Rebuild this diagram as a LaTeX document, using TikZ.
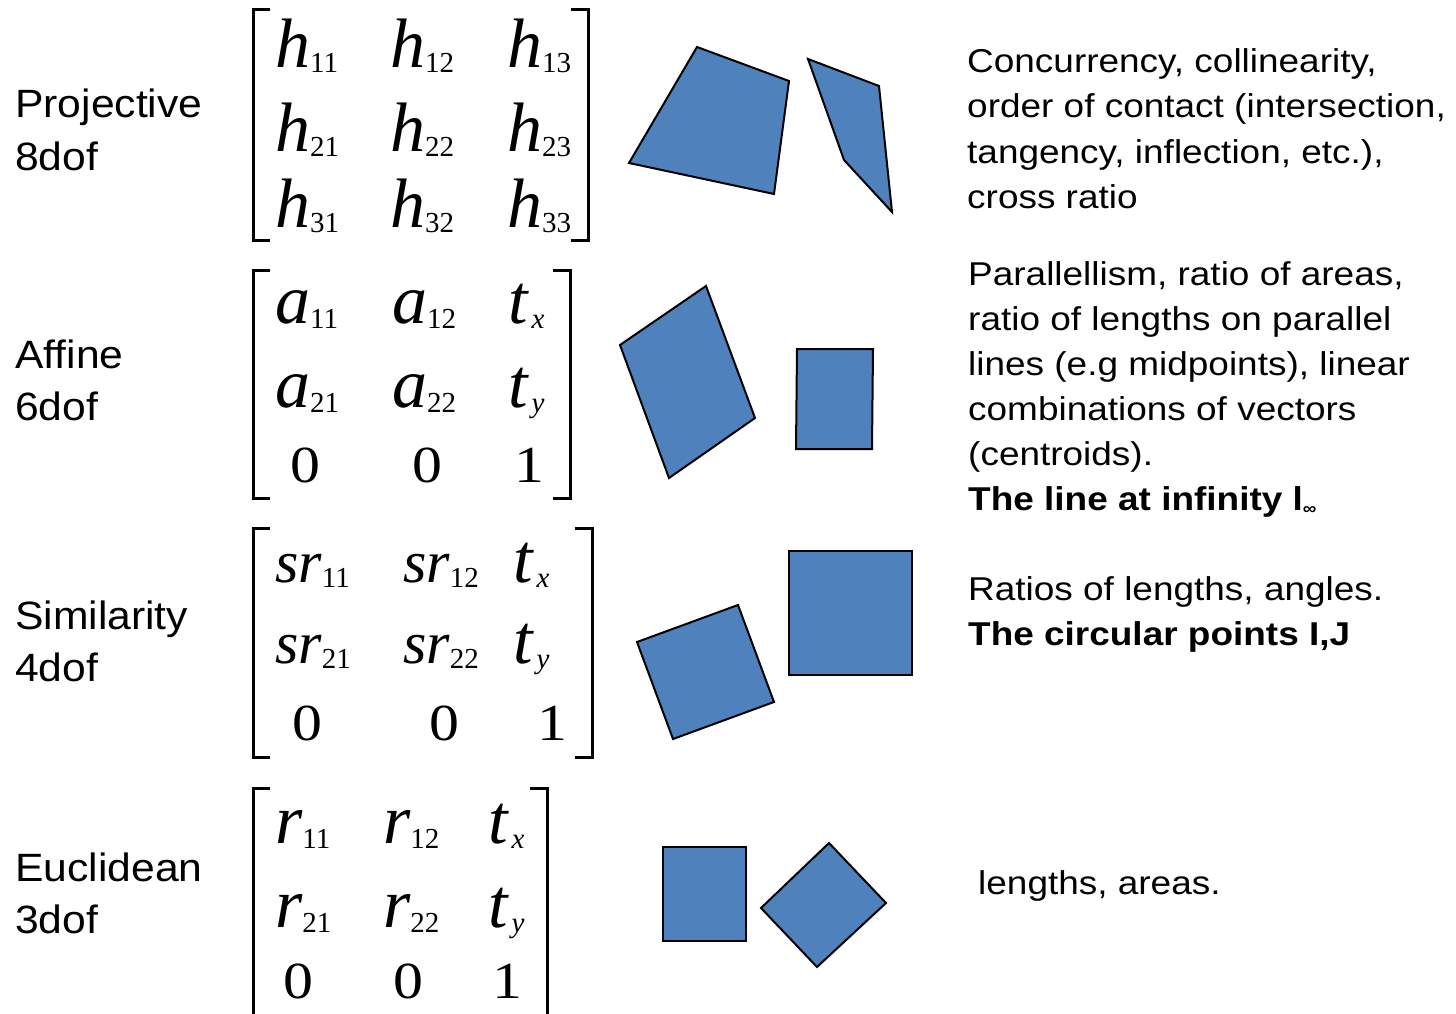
\documentclass[tikz,border=0pt]{standalone}
\usepackage{fontspec}
\usepackage{graphicx}
\setmainfont{Liberation Sans}
\newfontfamily\eqfont{Liberation Serif}
\usetikzlibrary{positioning}
\definecolor{shapeblue}{RGB}{79,129,189}

% matrix pieces: variable, plain digit, digit subscript, italic subscript
\newcommand{\mv}[2]{{\eqfont\fontsize{#1}{#1}\selectfont\itshape #2}}
\newcommand{\mn}[1]{\scalebox{1.15}[1]{\eqfont\fontsize{52}{52}\selectfont #1}}
\newcommand{\ms}[1]{\raisebox{-5pt}{\eqfont\fontsize{29}{29}\selectfont #1}}
\newcommand{\msi}[1]{\kern4pt\raisebox{-5pt}{\eqfont\fontsize{29}{29}\selectfont\itshape #1}}
% wide text as on the slide
\newcommand{\wide}[2]{\scalebox{#1}[1]{#2}}

\begin{document}
\begin{tikzpicture}[x=1pt, y=-1pt, every node/.style={inner sep=0pt},
  kind/.style={anchor=base west, font=\fontsize{39.5}{39.5}\selectfont},
  prop/.style={anchor=base west, font=\fontsize{33}{33}\selectfont},
  entry/.style={anchor=base west},
  digit/.style={anchor=base},
  bracket/.style={line width=3pt},
  blob/.style={fill=shapeblue, draw=black, line width=2pt, line join=miter}]
\useasboundingbox (0,0) rectangle (1456,1014);

% names of the groups
\foreach \n/\txt/\dof/\y in {p/Projective/8dof/118, a/Affine/6dof/368,
                             s/Similarity/4dof/629, e/Euclidean/3dof/881}{
  \node[kind] (\n-name) at (15,\y) {\wide{1.08}{\txt}};
  \node[kind] (\n-dof) at (15,\y+52) {\wide{1.08}{\dof}};
}

% matrix brackets
\foreach \l/\r/\t/\b in {253/588/10/240, 253/570/270/498,
                         253/592/528/757, 253/547/788/1030}{
  \draw[bracket] (\l+17,\t) -- (\l,\t) -- (\l,\b) -- (\l+17,\b);
  \draw[bracket] (\r-17,\t) -- (\r,\t) -- (\r,\b) -- (\r-17,\b);
}

% projective matrix
\foreach \r/\y in {1/68, 2/152, 3/227}
  \foreach \c/\x in {1/275, 2/390, 3/507}
    \node[entry] (h\r\c) at (\x,\y) {\mv{70}{h}\ms{\r\c}};

% upper 2x2 blocks of the other matrices
\foreach \m/\v/\sz/\ya/\yb/\xa/\xb in {a/a/70/323/407/275/392,
                                      s/sr/60/582/663/275/403,
                                      e/r/70/843/927/275/383}{
  \node[entry] (\m11) at (\xa,\ya) {\mv{\sz}{\v}\ms{11}};
  \node[entry] (\m12) at (\xb,\ya) {\mv{\sz}{\v}\ms{12}};
  \node[entry] (\m21) at (\xa,\yb) {\mv{\sz}{\v}\ms{21}};
  \node[entry] (\m22) at (\xb,\yb) {\mv{\sz}{\v}\ms{22}};
}

% translations
\foreach \m/\x/\ya/\yb in {a/508/323/407, s/513/582/663, e/488/843/927}{
  \node[entry] (\m-tx) at (\x,\ya) {\mv{70}{t}\msi{x}};
  \node[entry] (\m-ty) at (\x,\yb) {\mv{70}{t}\msi{y}};
}

% last rows
\foreach \m/\y/\xa/\xb/\xc in {a/482/305/427/529, s/740/307/444/552,
                               e/998/298/408/507}{
  \node[digit] (\m31) at (\xa,\y) {\mn{0}};
  \node[digit] (\m32) at (\xb,\y) {\mn{0}};
  \node[digit] (\m33) at (\xc,\y) {\mn{1}};
}

% example shapes
\draw[blob] (697,47) -- (789,81) -- (774,194) -- (629,163) -- cycle;
\draw[blob] (808,59) -- (879,86) -- (892,212) -- (844,160) -- cycle;
\draw[blob] (706,286) -- (755,418) -- (669,478) -- (620,345) -- cycle;
\draw[blob] (797,349) -- (873,349) -- (872,449) -- (796,449) -- cycle;
\draw[blob] (637,642) -- (738,605) -- (774,702) -- (673,739) -- cycle;
\draw[blob] (789,551) rectangle (912,675);
\draw[blob] (663,847) rectangle (746,941);
\draw[blob] (829,843) -- (886,903) -- (817,967) -- (761,908) -- cycle;

% invariants
\foreach \i/\txt in {0/{Concurrency, collinearity,},
                     1/{order of contact (intersection,},
                     2/{tangency, inflection, etc.),},
                     3/{cross ratio}}
  \node[prop] (p-inv\i) at (967,73+\i*45) {\wide{1.12}{\txt}};
\foreach \i/\txt in {0/{Parallellism, ratio of areas,},
                     1/{ratio of lengths on parallel},
                     2/{lines (e.g midpoints), linear},
                     3/{combinations of vectors},
                     4/{(centroids).}}
  \node[prop] (a-inv\i) at (968,285+\i*45) {\wide{1.12}{\txt}};
\node[prop] (a-inv5) at (968,510) {\wide{1.12}{\bfseries The line at infinity
  l\raisebox{-4pt}{\fontsize{17}{17}\selectfont ∞}}};
\node[prop] (s-inv0) at (968,600) {\wide{1.12}{Ratios of lengths, angles.}};
\node[prop] (s-inv1) at (968,645) {\wide{1.12}{\bfseries The circular points I,J}};
\node[prop] (e-inv0) at (978,894) {\wide{1.12}{lengths, areas.}};
\end{tikzpicture}
\end{document}
